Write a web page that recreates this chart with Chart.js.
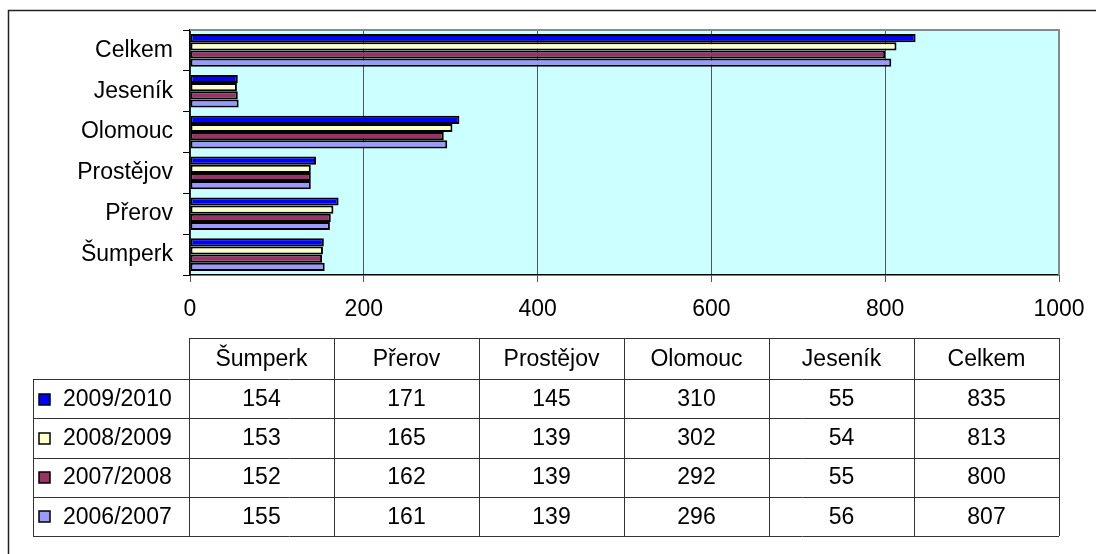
<!DOCTYPE html>
<html>
<head>
<meta charset="utf-8">
<script src="https://cdn.jsdelivr.net/npm/chart.js@4/dist/chart.umd.min.js"></script>
<style>
  html, body { margin: 0; padding: 0; background: #fff; }
  canvas { display: block; }
</style>
</head>
<body>
<canvas id="chart" width="1096" height="554"></canvas>
<script>
// data
const categories = ['Šumperk', 'Přerov', 'Prostějov', 'Olomouc', 'Jeseník', 'Celkem'];
const seriesNames = ['2009/2010', '2008/2009', '2007/2008', '2006/2007'];
const s2009 = [154, 171, 145, 310, 55, 835];
const s2008 = [153, 165, 139, 302, 54, 813];
const s2007 = [152, 162, 139, 292, 55, 800];
const s2006 = [155, 161, 139, 296, 56, 807];
const xTicks = [0, 200, 400, 600, 800, 1000];

const colors = ['#0000FF', '#FFFFCC', '#993366', '#9999FF'];
const FONT = 'Liberation Sans, Arial, sans-serif';

Chart.defaults.color = '#000';
Chart.defaults.font.family = FONT;
Chart.defaults.font.size = 23;

// background, plot border, outer frame
const frame = {
  id: 'frame',
  beforeDraw(chart) {
    const c = chart.ctx, a = chart.chartArea;
    c.save();
    c.fillStyle = '#CCFFFF';
    c.fillRect(a.left, a.top, a.right - a.left, a.bottom - a.top);
    c.restore();
  },
  afterDraw(chart) {
    const c = chart.ctx, a = chart.chartArea;
    c.save();
    c.strokeStyle = '#888';
    c.lineWidth = 2;
    c.beginPath();
    c.moveTo(a.left, a.top);
    c.lineTo(a.right, a.top);
    c.lineTo(a.right, a.bottom);
    c.stroke();
    c.strokeStyle = '#222';
    c.lineWidth = 1.5;
    c.strokeRect(8.5, 10.5, 1300, 700);
    c.restore();
  }
};

// data table under the chart
const dataTable = {
  id: 'dataTable',
  afterDraw(chart) {
    const c = chart.ctx, a = chart.chartArea;
    const left = a.left - 1, right = a.right;
    const colW = (right - left) / categories.length;
    const headTop = 338, headBot = 379, bottom = 536;
    const rowH = (bottom - headBot) / seriesNames.length;
    const legLeft = 33;
    c.save();
    c.strokeStyle = '#333';
    c.lineWidth = 1;
    c.beginPath();
    // horizontal lines
    c.moveTo(left, headTop + 0.5); c.lineTo(right, headTop + 0.5);
    for (let r = 0; r <= seriesNames.length; r++) {
      const y = Math.round(headBot + r * rowH) + 0.5;
      c.moveTo(legLeft, y); c.lineTo(right, y);
    }
    // vertical lines
    c.moveTo(legLeft + 0.5, headBot); c.lineTo(legLeft + 0.5, bottom);
    for (let i = 0; i <= categories.length; i++) {
      const x = Math.round(left + i * colW) + 0.5;
      c.moveTo(x, headTop); c.lineTo(x, bottom);
    }
    c.stroke();

    c.fillStyle = '#000';
    c.font = '23px ' + FONT;
    c.textAlign = 'center';
    c.textBaseline = 'middle';
    categories.forEach((cat, i) => {
      c.fillText(cat, left + (i + 0.5) * colW, (headTop + headBot) / 2 + 1);
    });
    chart.data.datasets.forEach((ds, r) => {
      const yc = headBot + (r + 0.5) * rowH + 1;
      ds.data.forEach((v, i) => {
        c.textAlign = 'center';
        c.fillText(String(v), left + (i + 0.5) * colW, yc);
      });
      // legend key
      c.fillStyle = ds.backgroundColor;
      c.fillRect(39, Math.round(yc - 6), 11, 11);
      c.strokeStyle = '#000';
      c.lineWidth = 1.5;
      c.strokeRect(39, Math.round(yc - 6), 11, 11);
      c.fillStyle = '#000';
      c.textAlign = 'left';
      c.fillText(ds.label, 63, yc);
    });
    c.restore();
  }
};

const seriesData = [s2009, s2008, s2007, s2006];

new Chart(document.getElementById('chart'), {
  type: 'bar',
  data: {
    labels: categories,
    datasets: seriesNames.map((name, i) => ({
      label: name,
      data: seriesData[i],
      backgroundColor: colors[i],
      borderColor: '#000',
      borderWidth: 2,
      borderSkipped: false,
      categoryPercentage: 0.8,
      barPercentage: 1
    }))
  },
  options: {
    indexAxis: 'y',
    responsive: false,
    animation: false,
    layout: { padding: { left: 0, top: 30, right: 37, bottom: 234 } },
    plugins: { legend: { display: false }, tooltip: { enabled: false } },
    scales: {
      x: {
        min: 0, max: 1000,
        afterBuildTicks: s => { s.ticks = xTicks.map(v => ({ value: v })); },
        afterFit: s => { s.height = 45; s.paddingRight = 0; s.paddingLeft = 0; },
        grid: { color: '#555', lineWidth: 1, tickLength: 7, tickColor: '#555' },
        border: { color: '#000', width: 1.5 },
        ticks: { padding: 14, font: { size: 23 }, callback: v => String(v) }
      },
      y: {
        reverse: true,
        offset: true,
        afterFit: s => { s.width = 190; },
        grid: { offset: true, drawOnChartArea: false, tickLength: 7, color: '#000' },
        border: { color: '#000', width: 1.5 },
        ticks: { padding: 10, font: { size: 23 } }
      }
    }
  },
  plugins: [frame, dataTable]
});
</script>
</body>
</html>
